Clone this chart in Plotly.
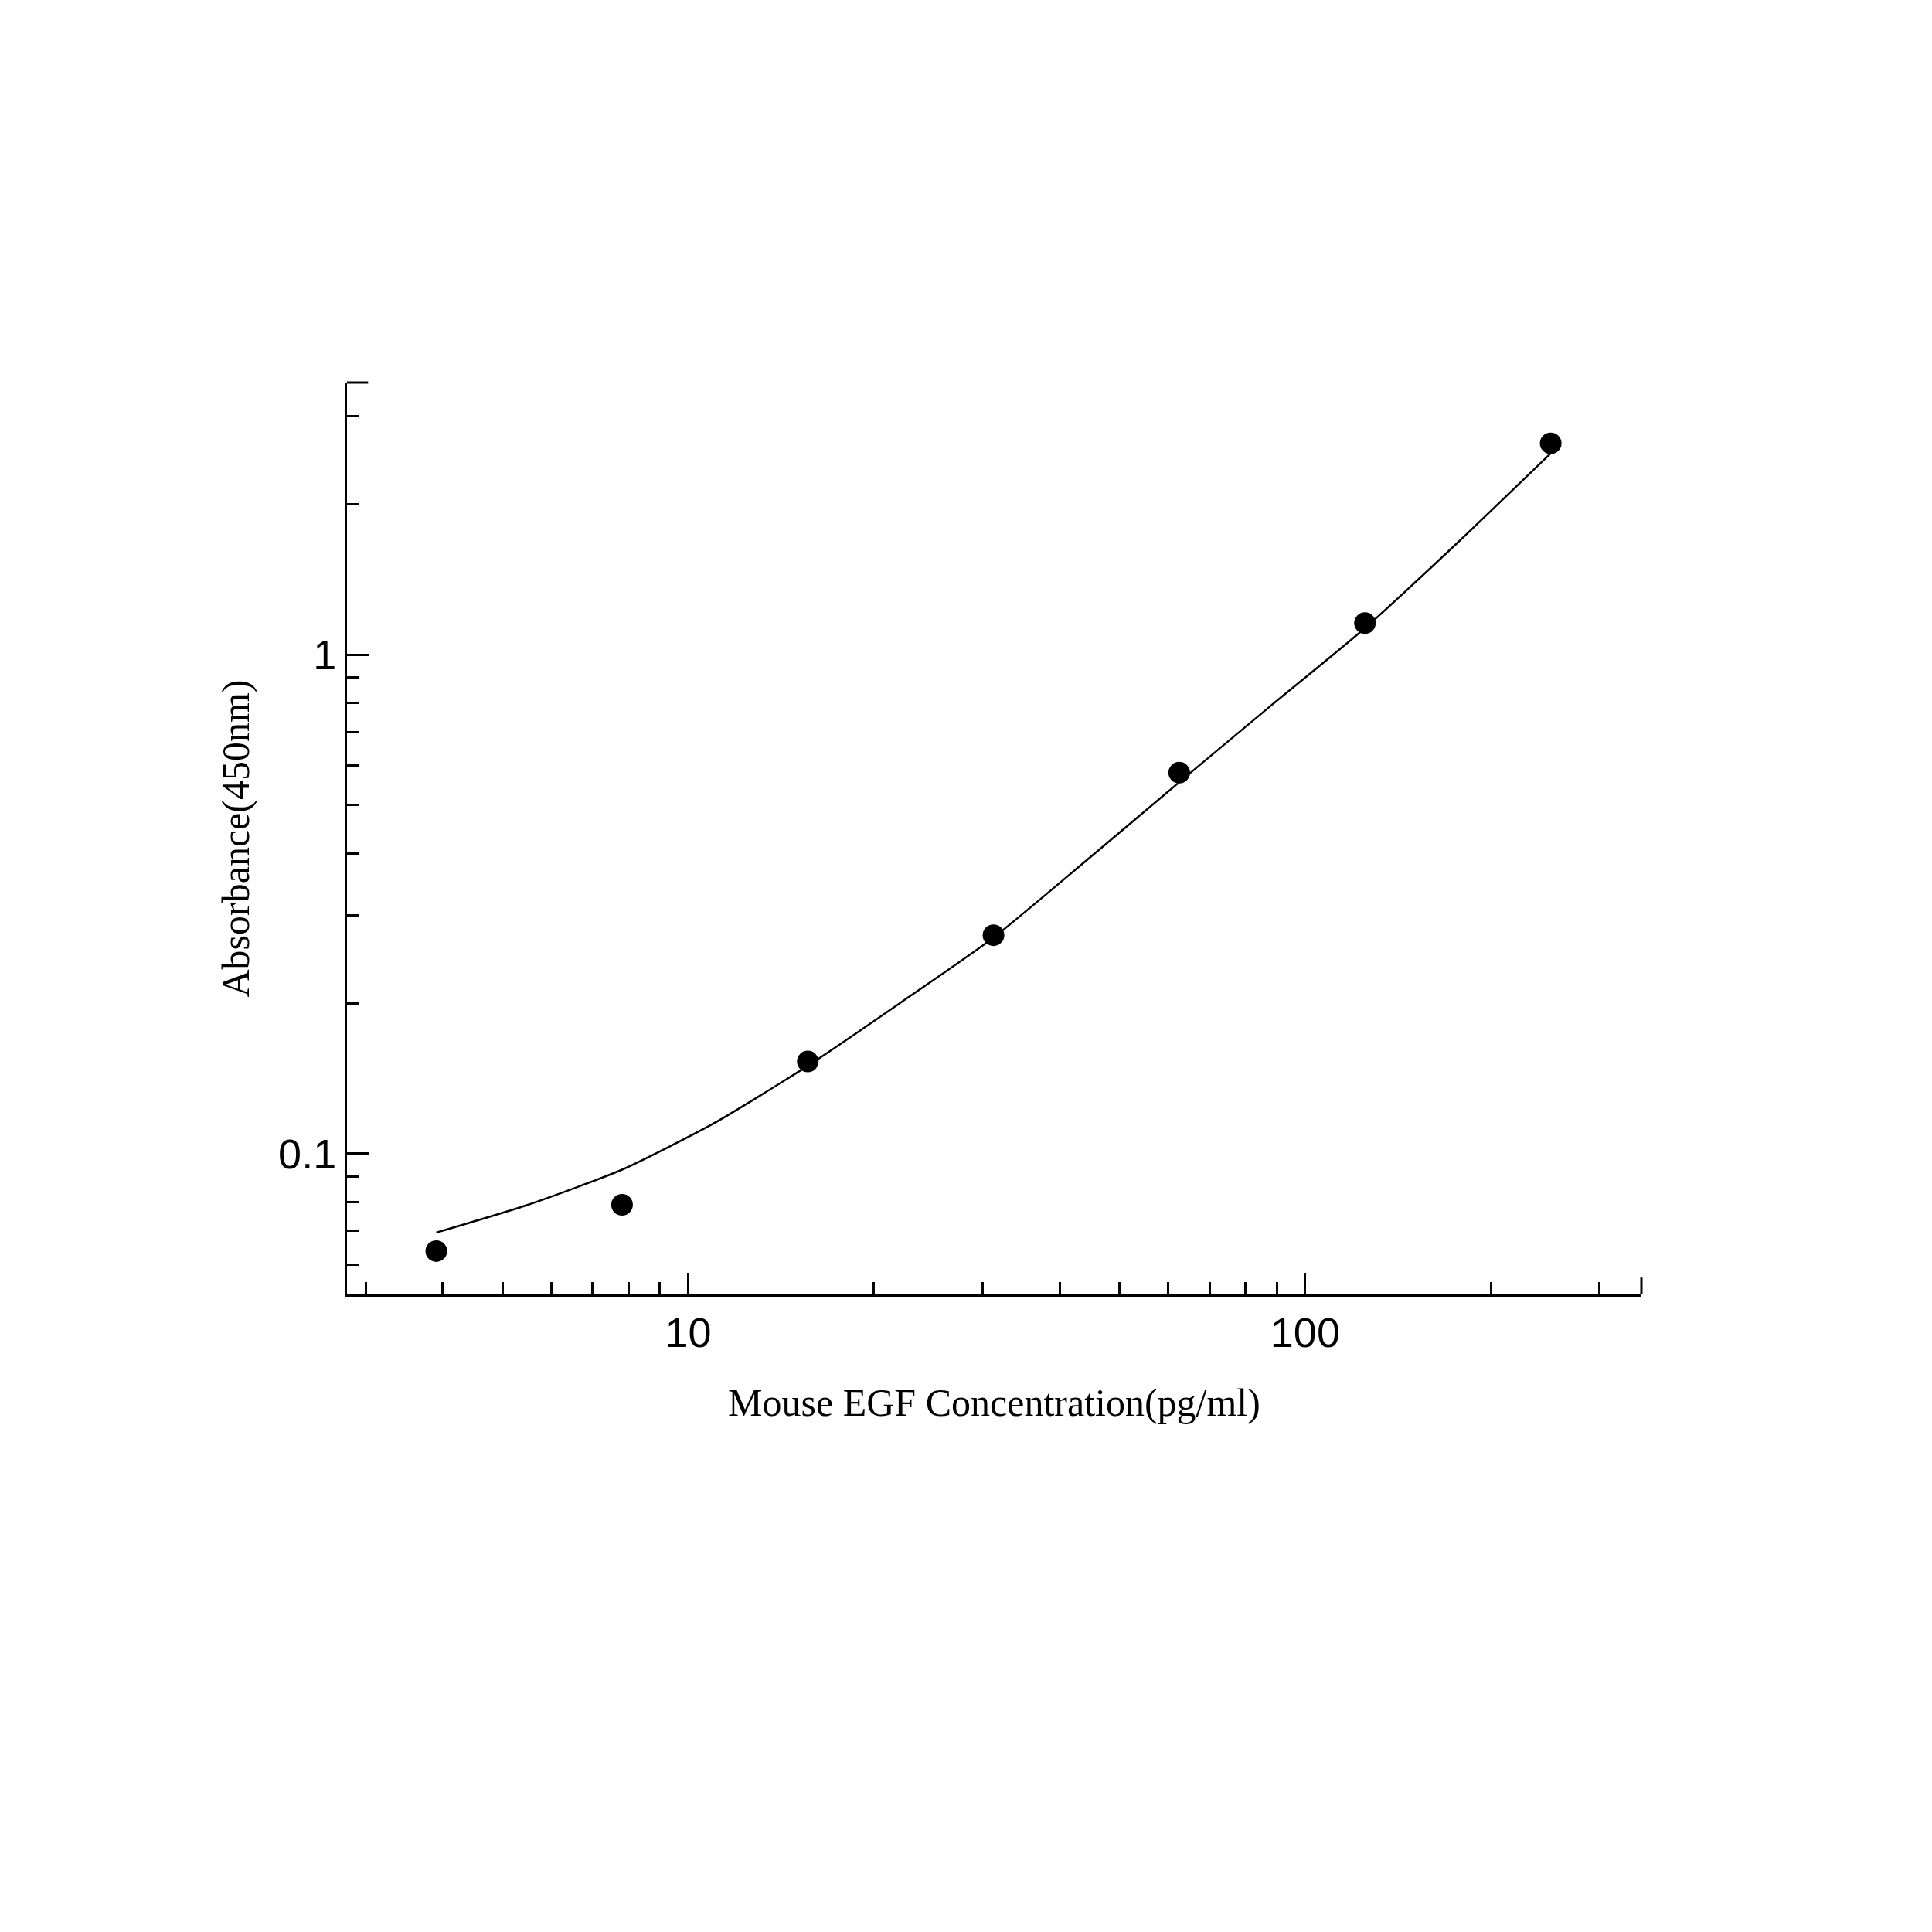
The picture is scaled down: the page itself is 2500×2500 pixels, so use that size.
import plotly.graph_objects as go

conc = [3.906, 7.8125, 15.625, 31.25, 62.5, 125, 250]
absorb = [0.0638, 0.079, 0.153, 0.274, 0.58, 1.156, 2.65]
curve_x = [3.906, 5.5, 7.8125, 11, 15.625, 22, 31.25, 44, 62.5, 88, 125, 177, 250]
curve_y = [0.0695, 0.079, 0.0929, 0.115, 0.150, 0.200, 0.271, 0.385, 0.555, 0.79, 1.13, 1.68, 2.53]

fig = go.Figure()
fig.add_trace(go.Scatter(x=curve_x, y=curve_y, mode="lines", line=dict(color="black", width=2.5, shape="spline", smoothing=0.6), hoverinfo="skip"))
fig.add_trace(go.Scatter(x=conc, y=absorb, mode="markers", marker=dict(color="black", size=28)))

axis_common = dict(showgrid=False, zeroline=False, showline=True, linecolor="black", linewidth=3,
                   ticks="inside", ticklen=28, tickwidth=3, tickcolor="black",
                   tickfont=dict(family="Liberation Sans", size=54, color="black"))
fig.update_xaxes(type="log", range=[0.447, 2.545], tickvals=[10, 100], ticktext=["10", "100"],
                 minor=dict(ticks="inside", ticklen=16, tickwidth=3, tickcolor="black",
                            tickvals=[3,4,5,6,7,8,9,20,30,40,50,60,70,80,90,200,300]),
                 title=dict(text="Mouse EGF Concentration(pg/ml)", font=dict(family="Liberation Serif", size=50, color="black"), standoff=45),
                 **axis_common)
fig.update_yaxes(type="log", range=[-1.282, 0.545], tickvals=[0.1, 1], ticktext=["0.1", "1"],
                 minor=dict(ticks="inside", ticklen=16, tickwidth=3, tickcolor="black",
                            tickvals=[0.06,0.07,0.08,0.09,0.2,0.3,0.4,0.5,0.6,0.7,0.8,0.9,2,3]),
                 title=dict(text="Absorbance(450nm)", font=dict(family="Liberation Serif", size=50, color="black"), standoff=22),
                 **axis_common)
fig.add_shape(type="line", xref="paper", yref="paper", x0=1, x1=1, y0=0, y1=0.0185, line=dict(color="black", width=3))
fig.add_shape(type="line", xref="paper", yref="paper", x0=0, x1=0.0163, y0=1, y1=1, line=dict(color="black", width=3))
fig.update_layout(width=2500, height=2500, plot_bgcolor="white", paper_bgcolor="white", showlegend=False,
                  margin=dict(l=441, r=384, t=487, b=833))
fig.write_html("out.html")
